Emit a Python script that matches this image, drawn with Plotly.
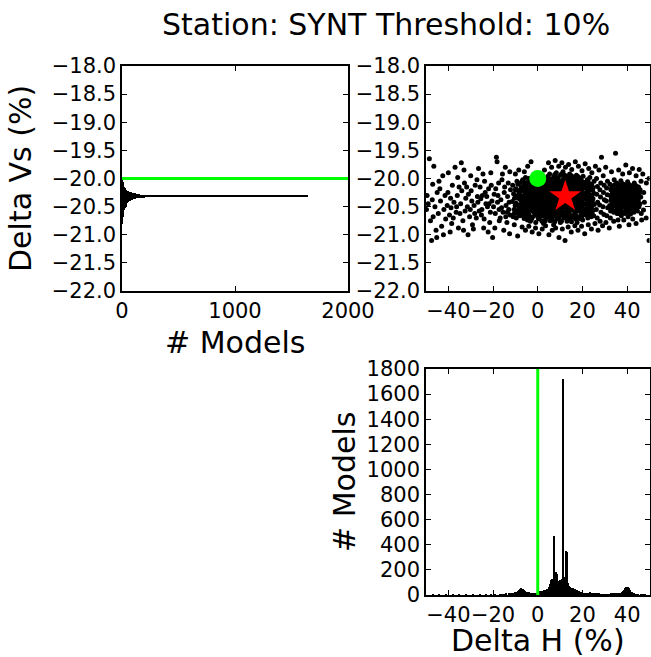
import plotly.graph_objects as go

# ---------------- data ----------------
title_text = "Station: SYNT Threshold: 10%"

# True model (green) and best model (red star)
true_dh = 0.0
true_dvs = -20.0
best_dh = 12.3
best_dvs = -20.32

# Histogram of Delta Vs (bin centers, counts) - bin width 0.01
vs_bin_width = 0.01
vs_centers = [-20.00, -20.01, -20.02, -20.03, -20.04, -20.05, -20.06, -20.07, -20.08, -20.09,
              -20.10, -20.11, -20.12, -20.13, -20.14, -20.15, -20.16, -20.17, -20.18, -20.19,
              -20.20, -20.21, -20.22, -20.23, -20.24, -20.25, -20.26, -20.27, -20.28, -20.29,
              -20.30, -20.31, -20.32, -20.33, -20.34, -20.35, -20.36, -20.37, -20.38, -20.39,
              -20.40, -20.41, -20.42, -20.43, -20.44, -20.45, -20.46, -20.47, -20.48, -20.49,
              -20.50, -20.51, -20.52, -20.53, -20.54, -20.55, -20.56, -20.57, -20.58, -20.59,
              -20.60, -20.61, -20.62, -20.63, -20.64, -20.65, -20.66, -20.67, -20.68, -20.69,
              -20.70, -20.71, -20.72, -20.73, -20.74, -20.75, -20.76, -20.77, -20.78, -20.79, -20.80]
vs_counts = [4, 3, 5, 4, 6, 7, 6, 8, 9, 10,
             12, 11, 14, 16, 18, 20, 22, 25, 28, 32,
             36, 40, 46, 52, 60, 70, 85, 100, 125, 160,
             230, 1650, 430, 200, 150, 120, 100, 90, 80, 72,
             66, 60, 56, 52, 48, 45, 42, 40, 37, 35,
             33, 31, 29, 27, 25, 24, 22, 20, 19, 18,
             16, 15, 14, 13, 12, 11, 10, 9, 8, 7,
             7, 6, 5, 5, 4, 4, 3, 3, 2, 2, 1]

# Histogram of Delta H (bin centers, counts) - bin width 0.5
h_bin_width = 0.5
h_centers = [-47, -44, -41, -38, -35, -32, -29, -26, -23, -21, -19, -17, -16, -15, -14, -13,
             -12.5, -12, -11.5, -11, -10.5, -10, -9.5, -9, -8.5, -8, -7.5, -7, -6.5, -6, -5.5, -5,
             -4.5, -4, -3.5, -3, -2.5, -2, -1.5, -1, -0.5, 0, 0.5, 1, 1.5, 2, 2.5, 3, 3.5, 4,
             4.5, 5, 5.5, 6, 6.5, 7, 7.5, 8, 8.5, 9, 9.5, 10, 10.5, 11, 11.5, 12, 12.5, 13,
             13.5, 14, 14.5, 15, 15.5, 16, 16.5, 17, 17.5, 18, 18.5, 19, 19.5, 20, 20.5, 21,
             21.5, 22, 22.5, 23, 23.5, 24, 24.5, 25, 25.5, 26, 26.5, 27, 27.5, 28, 28.5, 29,
             29.5, 30, 30.5, 31, 31.5, 32, 32.5, 33, 33.5, 34, 34.5, 35, 35.5, 36, 36.5, 37,
             37.5, 38, 38.5, 39, 39.5, 40, 40.5, 41, 41.5, 42, 42.5, 43, 43.5, 44, 44.5, 45,
             46, 47, 48]
h_counts = [2, 1, 2, 1, 2, 3, 2, 3, 4, 3, 5, 5, 6, 8, 9, 10,
            12, 13, 14, 16, 18, 20, 24, 30, 38, 46, 52, 50, 44, 36, 28, 24,
            22, 20, 18, 17, 16, 16, 15, 16, 18, 20, 24, 28, 30, 32, 34, 36, 40, 44,
            50, 60, 90, 120, 125, 130, 470, 180, 165, 112, 115, 118, 122, 130, 1720, 140, 350, 340,
            95, 72, 62, 58, 56, 54, 48, 42, 36, 32, 28, 25, 22, 20, 18, 17,
            16, 15, 16, 18, 20, 18, 16, 14, 12, 11, 10, 9, 9, 8, 8, 7,
            7, 7, 6, 6, 7, 8, 8, 9, 10, 12, 14, 13, 12, 12, 14, 16,
            20, 28, 40, 58, 64, 62, 60, 52, 36, 22, 14, 10, 8, 6, 5, 4,
            3, 2, 2]

# Individual models: (Delta H %, Delta Vs %)
model_points = [
    # sparse left region
    (-49.5, -20.3), (-49, -20.45), (-48.5, -19.65), (-48, -20.75), (-47.5, -21.1), (-47, -20.1), (-49.8, -20.55), (-47.2, -20.38),
    (-46.5, -19.78), (-46, -20.5), (-45.5, -20.92), (-45, -20.25), (-44.5, -20.62), (-44.2, -20.05), (-46.8, -20.68), (-45.2, -21.05),
    (-43.5, -20.4), (-43, -20.85), (-42.5, -19.95), (-42, -20.55), (-41.5, -20.3), (-41.2, -20.72), (-43.8, -20.18), (-42.2, -21.0),
    (-40.5, -20.48), (-40, -19.9), (-39.5, -20.65), (-39, -20.35), (-38.5, -20.8), (-38.2, -20.12), (-40.2, -20.25), (-39.2, -20.95), (-38.8, -20.52),
    (-37.5, -20.42), (-37, -19.8), (-36.5, -20.6), (-36, -20.3), (-35.5, -20.88), (-35.2, -20.15), (-37.8, -20.7), (-36.3, -20.5), (-35.8, -19.98),
    (-34.5, -20.45), (-34, -20.22), (-33.5, -20.75), (-33, -19.85), (-32.5, -20.58), (-32.2, -20.35), (-34.8, -20.62), (-33.2, -20.92), (-32.8, -20.08), (-34.2, -19.72),
    (-31.5, -20.5), (-31, -20.28), (-30.5, -20.68), (-30, -19.95), (-29.5, -20.4), (-29.2, -20.82), (-31.8, -20.15), (-30.2, -20.55), (-29.8, -20.22), (-31.2, -21.0),
    (-28.5, -20.48), (-28, -20.12), (-27.5, -20.7), (-27, -20.32), (-26.5, -19.82), (-26.2, -20.58), (-28.8, -20.9), (-27.2, -20.02), (-26.8, -20.42), (-28.2, -20.62),
    (-25.5, -20.36), (-25, -20.55), (-24.5, -19.92), (-24, -20.72), (-23.5, -20.25), (-23.2, -20.45), (-25.8, -20.15), (-24.2, -20.88), (-23.8, -20.05), (-25.2, -20.65), (-24.8, -20.3),
    (-22.5, -20.5), (-22, -20.18), (-21.5, -20.78), (-21, -19.9), (-20.5, -20.4), (-20.2, -21.05), (-22.8, -20.32), (-21.2, -20.6), (-20.8, -20.12), (-22.2, -20.95), (-21.8, -20.45),
    (-19.5, -20.28), (-19, -20.62), (-18.5, -19.62), (-18, -20.42), (-17.5, -20.08), (-17.2, -20.75), (-19.8, -20.5), (-18.2, -19.7), (-17.8, -20.3), (-19.2, -20.88), (-18.8, -20.18), (-17.3, -20.55),
    (-16.5, -20.38), (-16, -20.02), (-15.5, -20.6), (-15, -20.25), (-14.5, -19.8), (-14.2, -20.48), (-16.8, -20.7), (-15.2, -20.92), (-14.8, -20.15), (-16.2, -20.52), (-15.8, -19.92), (-14.3, -20.68),
    (-13.5, -20.32), (-13, -20.55), (-12.5, -19.88), (-12.2, -20.2), (-13.8, -20.78), (-12.8, -20.42), (-13.2, -20.08), (-12.4, -20.65), (-13.6, -20.6), (-12.6, -20.98),
    # dense core
    (-11.2, -20.12), (-10.8, -20.27), (-11.4, -20.41), (-10.6, -20.55), (-11, -20.68),
    (-9.3, -20.05), (-9.8, -20.18), (-9.4, -20.31), (-9.7, -20.44), (-9.2, -20.57), (-9.6, -20.7),
    (-8.2, -20.09), (-7.8, -20.2), (-8.1, -20.28), (-7.7, -20.38), (-8.3, -20.47), (-7.9, -20.58), (-8.0, -20.66),
    (-6.7, -20.02), (-6.3, -20.13), (-6.6, -20.22), (-6.2, -20.31), (-6.8, -20.4), (-6.4, -20.49), (-6.5, -20.59), (-6.1, -20.71),
    (-5.2, -20.07), (-4.8, -20.16), (-5.1, -20.25), (-4.7, -20.34), (-5.3, -20.43), (-4.9, -20.52), (-5.0, -20.62), (-4.6, -20.74),
    (-3.3, -20.04), (-3.7, -20.12), (-3.4, -20.2), (-3.8, -20.29), (-3.2, -20.37), (-3.6, -20.46), (-3.5, -20.55), (-3.9, -20.64), (-3.3, -20.76),
    (-2.2, -19.98), (-1.8, -20.09), (-2.1, -20.18), (-1.7, -20.26), (-2.3, -20.35), (-1.9, -20.43), (-2.0, -20.51), (-1.6, -20.6), (-2.4, -20.69),
    (-0.7, -20.06), (-0.3, -20.14), (-0.6, -20.23), (-0.2, -20.31), (-0.8, -20.4), (-0.4, -20.48), (-0.5, -20.57), (-0.1, -20.66), (-0.9, -20.78),
    (1.2, -20.02), (0.8, -20.11), (1.1, -20.19), (0.7, -20.28), (1.3, -20.36), (0.9, -20.45), (1.0, -20.53), (1.4, -20.62), (0.6, -20.72),
    (2.3, -19.95), (2.7, -20.07), (2.4, -20.15), (2.8, -20.24), (2.2, -20.32), (2.6, -20.41), (2.5, -20.5), (2.9, -20.58), (2.1, -20.67), (2.6, -20.8),
    (4.2, -20.01), (3.8, -20.1), (4.1, -20.18), (3.7, -20.27), (4.3, -20.35), (3.9, -20.44), (4.0, -20.52), (4.4, -20.61), (3.6, -20.7),
    (5.3, -19.92), (5.7, -20.04), (5.4, -20.13), (5.8, -20.21), (5.2, -20.3), (5.6, -20.38), (5.5, -20.47), (5.9, -20.55), (5.1, -20.64), (5.6, -20.75),
    (7.2, -19.97), (6.8, -20.08), (7.1, -20.16), (6.7, -20.25), (7.3, -20.33), (6.9, -20.42), (7.0, -20.5), (7.4, -20.59), (6.6, -20.68), (7.1, -20.82),
    (8.3, -19.9), (8.7, -20.02), (8.4, -20.11), (8.8, -20.19), (8.2, -20.28), (8.6, -20.36), (8.5, -20.45), (8.9, -20.53), (8.1, -20.62), (8.6, -20.72),
    (10.2, -19.94), (9.8, -20.06), (10.1, -20.14), (9.7, -20.23), (10.3, -20.31), (9.9, -20.4), (10.0, -20.48), (10.4, -20.57), (9.6, -20.66), (10.1, -20.78),
    (11.3, -19.88), (11.7, -20.0), (11.4, -20.09), (11.8, -20.17), (11.2, -20.26), (11.6, -20.34), (11.5, -20.43), (11.9, -20.51), (11.1, -20.6), (11.6, -20.7),
    (13.2, -19.96), (12.8, -20.04), (13.1, -20.13), (12.7, -20.21), (13.3, -20.3), (12.9, -20.38), (13.0, -20.47), (13.4, -20.55), (12.6, -20.64), (13.1, -20.76),
    (14.3, -19.92), (14.7, -20.03), (14.4, -20.11), (14.8, -20.2), (14.2, -20.28), (14.6, -20.37), (14.5, -20.45), (14.9, -20.54), (14.1, -20.62), (14.6, -20.73),
    (16.2, -19.98), (15.8, -20.07), (16.1, -20.16), (15.7, -20.24), (16.3, -20.33), (15.9, -20.41), (16.0, -20.5), (16.4, -20.58), (15.6, -20.68),
    (17.3, -19.94), (17.7, -20.05), (17.4, -20.13), (17.8, -20.22), (17.2, -20.3), (17.6, -20.39), (17.5, -20.47), (17.9, -20.56), (17.1, -20.66), (17.6, -20.78),
    (19.2, -20.0), (18.8, -20.09), (19.1, -20.18), (18.7, -20.26), (19.3, -20.35), (18.9, -20.43), (19.0, -20.52), (19.4, -20.61), (18.6, -20.71),
    (20.3, -19.96), (20.7, -20.08), (20.4, -20.17), (20.8, -20.27), (20.2, -20.36), (20.6, -20.45), (20.5, -20.55), (20.9, -20.64), (20.1, -20.74),
    (22.2, -20.02), (21.8, -20.12), (22.1, -20.22), (21.7, -20.31), (22.3, -20.4), (21.9, -20.5), (22.0, -20.6), (22.4, -20.7),
    (23.3, -19.98), (23.7, -20.1), (23.4, -20.2), (23.8, -20.3), (23.2, -20.38), (23.6, -20.48), (23.5, -20.58), (23.9, -20.68),
    (25.2, -20.05), (24.8, -20.16), (25.1, -20.26), (24.7, -20.36), (25.3, -20.46), (24.9, -20.56), (25.0, -20.66),
    # dense core, interleaved models
    (-10.0, -20.2), (-10.4, -20.35), (-10.1, -20.48), (-10.5, -20.62),
    (-8.9, -20.1), (-8.5, -20.24), (-8.8, -20.35), (-8.4, -20.5), (-8.7, -20.63),
    (-7.0, -20.05), (-7.4, -20.16), (-7.1, -20.33), (-7.3, -20.45), (-6.9, -20.54), (-7.2, -20.65),
    (-5.5, -19.98), (-5.9, -20.1), (-5.6, -20.2), (-5.8, -20.28), (-5.4, -20.37), (-5.7, -20.47), (-6.0, -20.56), (-5.5, -20.67),
    (-4.0, -20.0), (-4.4, -20.09), (-4.1, -20.22), (-4.3, -20.3), (-3.9, -20.41), (-4.2, -20.5), (-4.5, -20.59), (-4.0, -20.69),
    (-2.9, -20.07), (-2.5, -20.15), (-2.8, -20.23), (-2.6, -20.32), (-3.0, -20.42), (-2.7, -20.49), (-2.4, -20.58), (-2.8, -20.72),
    (-1.4, -20.03), (-1.0, -20.13), (-1.3, -20.22), (-1.1, -20.3), (-1.5, -20.38), (-1.2, -20.47), (-0.9, -20.55), (-1.3, -20.65),
    (0.1, -20.1), (0.5, -20.18), (0.2, -20.26), (0.4, -20.35), (0.0, -20.43), (0.3, -20.52), (0.6, -20.6), (0.2, -20.7),
    (1.6, -20.06), (2.0, -20.15), (1.7, -20.23), (1.9, -20.32), (1.5, -20.41), (1.8, -20.48), (2.1, -20.57), (1.7, -20.66), (1.9, -20.76),
    (3.1, -20.04), (3.5, -20.13), (3.2, -20.21), (3.4, -20.3), (3.0, -20.39), (3.3, -20.47), (3.6, -20.55), (3.2, -20.64), (3.4, -20.75),
    (4.6, -19.96), (5.0, -20.07), (4.7, -20.16), (4.9, -20.24), (4.5, -20.33), (4.8, -20.41), (5.1, -20.5), (4.7, -20.58), (4.9, -20.68),
    (6.1, -20.01), (6.5, -20.1), (6.2, -20.19), (6.4, -20.28), (6.0, -20.36), (6.3, -20.45), (6.6, -20.53), (6.2, -20.62), (6.4, -20.73),
    (7.6, -19.93), (8.0, -20.04), (7.7, -20.13), (7.9, -20.22), (7.5, -20.3), (7.8, -20.39), (8.1, -20.47), (7.7, -20.56), (7.9, -20.66), (7.6, -20.77),
    (9.1, -19.98), (9.5, -20.08), (9.2, -20.17), (9.4, -20.26), (9.0, -20.34), (9.3, -20.43), (9.6, -20.51), (9.2, -20.6), (9.4, -20.7),
    (10.6, -19.92), (11.0, -20.03), (10.7, -20.12), (10.9, -20.21), (10.5, -20.29), (10.8, -20.38), (11.1, -20.46), (10.7, -20.55), (10.9, -20.65), (10.6, -20.76),
    (12.1, -19.94), (12.5, -20.06), (12.2, -20.15), (12.4, -20.24), (12.0, -20.33), (12.3, -20.41), (12.6, -20.5), (12.2, -20.59), (12.4, -20.69),
    (13.6, -19.99), (14.0, -20.08), (13.7, -20.17), (13.9, -20.25), (13.5, -20.34), (13.8, -20.42), (14.1, -20.51), (13.7, -20.6), (13.9, -20.69),
    (15.1, -19.95), (15.5, -20.05), (15.2, -20.13), (15.4, -20.22), (15.0, -20.31), (15.3, -20.39), (15.6, -20.48), (15.2, -20.56), (15.4, -20.66), (15.1, -20.77),
    (16.6, -20.02), (17.0, -20.11), (16.7, -20.2), (16.9, -20.28), (16.5, -20.37), (16.8, -20.45), (17.1, -20.53), (16.7, -20.62), (16.9, -20.72),
    (18.1, -19.97), (18.5, -20.07), (18.2, -20.15), (18.4, -20.24), (18.0, -20.32), (18.3, -20.41), (18.6, -20.49), (18.2, -20.58), (18.4, -20.68),
    (19.6, -20.04), (20.0, -20.13), (19.7, -20.22), (19.9, -20.31), (19.5, -20.4), (19.8, -20.49), (20.1, -20.58), (19.7, -20.68),
    (21.1, -20.07), (21.5, -20.17), (21.2, -20.26), (21.4, -20.36), (21.0, -20.45), (21.3, -20.55), (21.6, -20.65),
    (22.6, -20.06), (23.0, -20.16), (22.7, -20.26), (22.9, -20.35), (22.5, -20.44), (22.8, -20.54), (23.1, -20.64),
    (24.1, -20.1), (24.5, -20.21), (24.2, -20.31), (24.4, -20.41), (24.0, -20.51), (24.3, -20.61),
    # right region
    (26.3, -20.0), (26.7, -20.14), (26.4, -20.28), (26.8, -20.42), (26.2, -20.55), (26.6, -20.7),
    (28.2, -20.08), (27.8, -20.2), (28.1, -20.33), (27.7, -20.47), (28.3, -20.6), (27.9, -20.76),
    (29.3, -19.95), (29.7, -20.12), (29.4, -20.25), (29.8, -20.38), (29.2, -20.5), (29.6, -20.64),
    (31.2, -20.05), (30.8, -20.17), (31.1, -20.29), (30.7, -20.4), (31.3, -20.52), (30.9, -20.66),
    (32.3, -20.1), (32.7, -20.2), (32.4, -20.3), (32.8, -20.39), (32.2, -20.48), (32.6, -20.58), (32.5, -20.7),
    (34.2, -20.02), (33.8, -20.13), (34.1, -20.22), (33.7, -20.31), (34.3, -20.4), (33.9, -20.49), (34.0, -20.6),
    (35.3, -20.08), (35.7, -20.17), (35.4, -20.26), (35.8, -20.34), (35.2, -20.43), (35.6, -20.52), (35.5, -20.62), (35.9, -20.74),
    (37.2, -20.04), (36.8, -20.14), (37.1, -20.22), (36.7, -20.3), (37.3, -20.38), (36.9, -20.47), (37.0, -20.56), (37.4, -20.66),
    (38.3, -20.1), (38.7, -20.19), (38.4, -20.27), (38.8, -20.35), (38.2, -20.43), (38.6, -20.51), (38.5, -20.6),
    (40.2, -20.06), (39.8, -20.15), (40.1, -20.24), (39.7, -20.32), (40.3, -20.4), (39.9, -20.48), (40.0, -20.57), (40.4, -20.68),
    (41.3, -20.12), (41.7, -20.21), (41.4, -20.29), (41.8, -20.37), (41.2, -20.45), (41.6, -20.54), (41.5, -20.63),
    (43.2, -20.08), (42.8, -20.17), (43.1, -20.26), (42.7, -20.34), (43.3, -20.42), (42.9, -20.5), (43.0, -20.6),
    (44.3, -20.14), (44.7, -20.23), (44.4, -20.32), (44.8, -20.41), (44.2, -20.5), (44.6, -20.58),
    (46.2, -20.05), (45.8, -20.2), (46.1, -20.33), (45.7, -20.45), (46.3, -20.62),
    (47.4, -20.25), (47.7, -20.42), (47.3, -20.56), (49.8, -20.0), (49.8, -21.1), (48.5, -20.7),
    # right region, interleaved models
    (33.1, -20.15), (33.4, -20.25), (33.0, -20.35), (33.3, -20.45), (33.2, -20.54),
    (34.7, -20.1), (35.0, -20.2), (34.6, -20.3), (34.9, -20.38), (34.8, -20.47), (35.0, -20.57),
    (36.1, -20.12), (36.4, -20.2), (36.0, -20.27), (36.3, -20.36), (36.2, -20.44), (36.4, -20.54), (36.0, -20.62),
    (37.7, -20.09), (38.0, -20.17), (37.6, -20.25), (37.9, -20.33), (37.8, -20.42), (38.0, -20.5), (37.6, -20.6),
    (39.1, -20.12), (39.4, -20.2), (39.0, -20.28), (39.3, -20.36), (39.2, -20.44), (39.4, -20.53), (39.0, -20.62),
    (40.7, -20.1), (41.0, -20.18), (40.6, -20.26), (40.9, -20.34), (40.8, -20.42), (41.0, -20.5), (40.6, -20.6),
    (42.1, -20.14), (42.4, -20.22), (42.0, -20.3), (42.3, -20.38), (42.2, -20.46), (42.4, -20.55),
    (43.7, -20.12), (44.0, -20.2), (43.6, -20.28), (43.9, -20.37), (43.8, -20.45), (44.0, -20.54),
    (45.1, -20.15), (45.4, -20.26), (45.0, -20.38), (45.3, -20.5),
    # upper fringe
    (-10, -19.92), (-8.5, -19.85), (-6, -19.88), (-4.5, -19.78), (-3, -19.7), (3, -19.85), (4.8, -19.72), (6.2, -19.8),
    (7.8, -19.68), (9.4, -19.78), (10.8, -19.72), (12.4, -19.8), (13.8, -19.75), (15.2, -19.84), (16.8, -19.7), (18.2, -19.78),
    (19.8, -19.86), (21.2, -19.74), (22.8, -19.82), (24.2, -19.9), (25.8, -19.78), (27.4, -19.85), (28.5, -19.62), (30.4, -19.8),
    (33, -19.88), (34.8, -19.55), (36.2, -19.85), (38, -19.92), (39.4, -19.76), (41, -19.9), (42.4, -19.82), (44, -19.95),
    (45.4, -19.84), (47, -19.92), (48.6, -20.08),
    # lower fringe
    (-10.5, -20.82), (-9, -21.02), (-7, -20.86), (-5.5, -20.92), (-4, -20.85), (-2.5, -20.95), (-1, -20.88), (0.5, -20.98),
    (2, -20.9), (3.5, -20.84), (5, -21.0), (6.5, -20.92), (8, -20.88), (9.5, -21.05), (11, -20.9), (12.2, -21.1),
    (13.6, -20.86), (15, -20.95), (16.6, -20.84), (18, -20.92), (19.6, -20.85), (21, -20.98), (22.6, -20.82), (24, -20.9),
    (25.6, -20.8), (27, -20.92), (29, -20.84), (30.5, -20.78), (32, -20.88), (34, -20.76), (36.5, -20.85), (38.5, -20.74),
    (40.8, -20.82), (42.5, -20.72), (44, -20.8), (46.5, -20.74),
]
model_dh = [p[0] for p in model_points]
model_dvs = [p[1] for p in model_points]

vs_range = [-22, -18]
dh_range = [-50, 50]
count_range_vs = [0, 2000]
count_range_h = [0, 1800]

# ---------------- figure ----------------
W, H = 651, 657
FONT = "DejaVu Sans"
GREEN = "#00ff00"

def px_x(a, b):
    return [a / W, b / W]

def px_y(top, bottom):
    return [1 - bottom / H, 1 - top / H]

fig = go.Figure()

fig.add_trace(go.Bar(
    y=vs_centers, x=vs_counts, orientation="h", width=vs_bin_width,
    marker=dict(color="black", line=dict(width=0)), xaxis="x", yaxis="y",
))

fig.add_trace(go.Scatter(
    x=model_dh, y=model_dvs, mode="markers",
    marker=dict(color="black", size=5, line=dict(width=0)), xaxis="x2", yaxis="y2",
))
fig.add_trace(go.Scatter(
    x=[true_dh], y=[true_dvs], mode="markers",
    marker=dict(color=GREEN, size=17, line=dict(width=0)), xaxis="x2", yaxis="y2",
))
fig.add_trace(go.Scatter(
    x=[best_dh], y=[best_dvs], mode="markers",
    marker=dict(color="red", size=24, symbol="star", line=dict(width=0)), xaxis="x2", yaxis="y2",
))

fig.add_trace(go.Bar(
    x=h_centers, y=h_counts, width=h_bin_width,
    marker=dict(color="black", line=dict(width=0)), xaxis="x3", yaxis="y3",
))

# green reference lines
fig.add_shape(type="line", xref="x domain", yref="y", x0=0, x1=1, y0=true_dvs, y1=true_dvs,
              line=dict(color=GREEN, width=3))
fig.add_shape(type="line", xref="x3", yref="y3 domain", x0=true_dh, x1=true_dh, y0=0, y1=1,
              line=dict(color=GREEN, width=3))

axis_common = dict(
    showline=True, linecolor="black", linewidth=1.5, mirror="ticks",
    ticks="inside", ticklen=5, tickwidth=1, tickcolor="black",
    showgrid=False, zeroline=False, tickangle=0, automargin=False,
    tickfont=dict(family=FONT, size=21, color="black"),
)

fig.update_layout(
    width=W, height=H, margin=dict(l=0, r=0, t=0, b=0, pad=0, autoexpand=False),
    paper_bgcolor="white", plot_bgcolor="white", showlegend=False,
    bargap=0,
    xaxis=dict(domain=px_x(122, 348), anchor="y", range=count_range_vs,
               tickvals=[0, 1000, 2000], **axis_common),
    yaxis=dict(domain=px_y(66, 291), anchor="x", range=vs_range, dtick=0.5, tick0=-22,
               tickformat=".1f", **axis_common),
    xaxis2=dict(domain=px_x(426, 649.5), anchor="y2", range=dh_range,
                tickvals=[-40, -20, 0, 20, 40], **axis_common),
    yaxis2=dict(domain=px_y(66, 291), anchor="x2", range=vs_range, dtick=0.5, tick0=-22,
                tickformat=".1f", **axis_common),
    xaxis3=dict(domain=px_x(426, 649.5), anchor="y3", range=dh_range,
                tickvals=[-40, -20, 0, 20, 40], **axis_common),
    yaxis3=dict(domain=px_y(369, 595), anchor="x3", range=count_range_h, dtick=200,
                **axis_common),
)

def ann(text, x, y, size, angle=0):
    fig.add_annotation(text=text, x=x / W, y=1 - y / H, xref="paper", yref="paper",
                       showarrow=False, textangle=angle, xanchor="center", yanchor="middle",
                       font=dict(family=FONT, size=size, color="black"))

ann(title_text, 385.5, 24, 30)
ann("Delta Vs (%)", 21, 179, 30, -90)
ann("# Models", 235, 342, 30)
ann("# Models", 344, 482, 30, -90)
ann("Delta H (%)", 538, 640, 30)

fig.write_html("out.html")
